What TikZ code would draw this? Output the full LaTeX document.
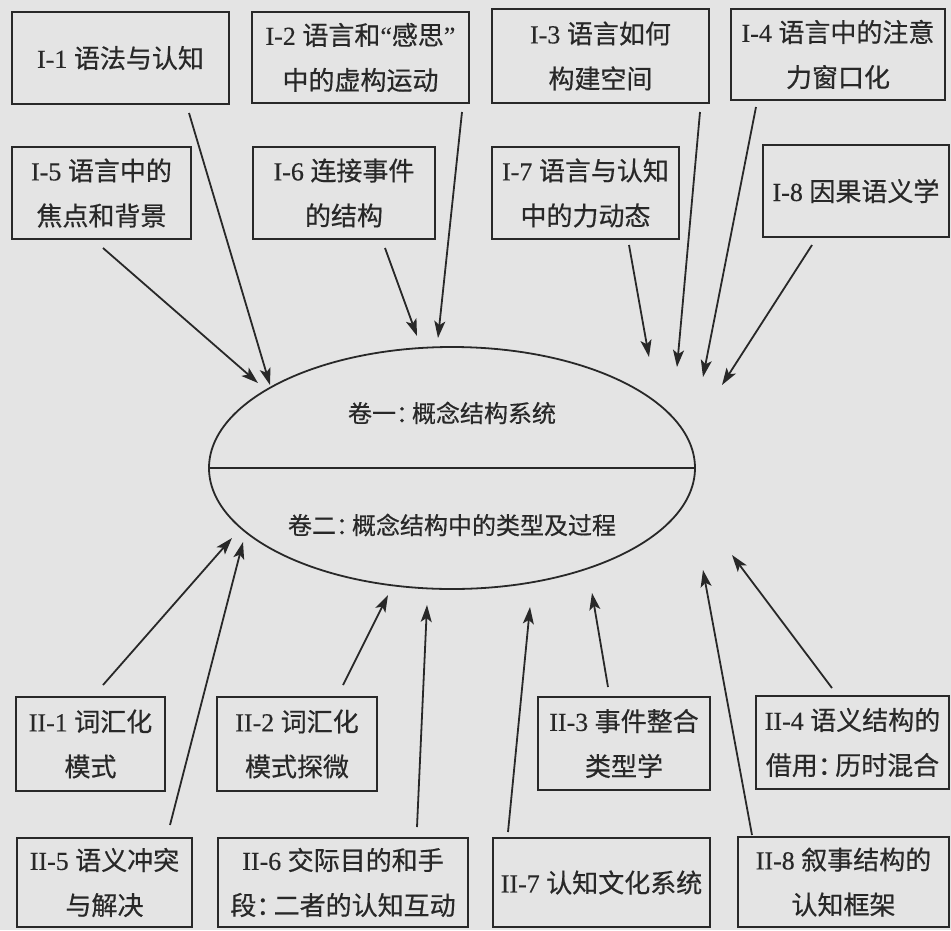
\documentclass[tikz,border=0pt]{standalone}
\usepackage{fontspec}
\setmainfont[FakeBold=0.3]{Liberation Serif}
\newfontfamily\cjk[FakeBold=0.5]{Noto Sans CJK SC}
\usetikzlibrary{arrows.meta,shapes.geometric}
\definecolor{ink}{HTML}{282828}
\definecolor{paper}{HTML}{E4E4E4}
\tikzset{
  box/.style={draw=ink, line width=2.6pt, text=ink, align=center, inner sep=0pt,
    font=\fontsize{26}{45}\selectfont},
  arr/.style={draw=ink, line width=1.8pt, -{Stealth[length=17pt,width=11pt,inset=4pt]}},
  lbl/.style={text=ink, font=\fontsize{24}{30}\selectfont\cjk, inner sep=0pt}
}
\newcommand{\bx}[6]{% name, x1, y1, x2, y2, text
  \node[box, minimum width={(#4-#2)*1pt}, minimum height={(#5-#3)*1pt}]
    (#1) at ({(#2+#4)/2}, {(#3+#5)/2}) {#6};}
\newcommand{\cq}[1]{{\cjk #1}}
\newcommand{\hc}{{\cjk\addfontfeature{RawFeature=+halt}：}}
\begin{document}
\begin{tikzpicture}[x=1pt, y=-1pt]
\fill[paper] (0,0) rectangle (951,930);
\useasboundingbox (0,0) rectangle (951,930);

% top boxes
\bx{I1}{12}{12}{229}{104}{I-1 \cq{语法与认知}}
\bx{I2}{252}{12}{469}{103}{I-2 \cq{语言和}“\cq{感思}”\\\cq{中的虚构运动}}
\bx{I3}{492}{9}{709}{103}{I-3 \cq{语言如何}\\\cq{构建空间}}
\bx{I4}{731}{9}{945}{100}{I-4 \cq{语言中的注意}\\\cq{力窗口化}}
\bx{I5}{12}{147}{191}{239}{I-5 \cq{语言中的}\\\cq{焦点和背景}}
\bx{I6}{253}{147}{435}{239}{I-6 \cq{连接事件}\\\cq{的结构}}
\bx{I7}{492}{147}{679}{239}{I-7 \cq{语言与认知}\\\cq{中的力动态}}
\bx{I8}{763}{145}{949}{237}{I-8 \cq{因果语义学}}

% bottom boxes
\bx{II1}{16}{697}{165}{791}{II-1 \cq{词汇化}\\\cq{模式}}
\bx{II2}{217}{697}{377}{791}{II-2 \cq{词汇化}\\\cq{模式探微}}
\bx{II3}{538}{697}{710}{790}{II-3 \cq{事件整合}\\\cq{类型学}}
\bx{II4}{756}{696}{949}{789}{II-4 \cq{语义结构的}\\\cq{借用}\hc\,\cq{历时混合}}
\bx{II5}{17}{838}{192}{927}{II-5 \cq{语义冲突}\\\cq{与解决}}
\bx{II6}{218}{838}{468}{927}{II-6 \cq{交际目的和手}\\\cq{段}\hc\,\cq{二者的认知互动}}
\bx{II7}{493}{838}{710}{927}{II-7 \cq{认知文化系统}}
\bx{II8}{738}{837}{949}{927}{II-8 \cq{叙事结构的}\\\cq{认知框架}}

% central ellipse
\node[draw=ink, line width=1.8pt, ellipse, minimum width=486pt, minimum height=242pt, inner sep=0pt] (E) at (452,468) {};
\draw[ink, line width=1.8pt] (E.west) -- (E.east);
\node[lbl] (V1) at (452,413) {卷一\hc\,概念结构系统};
\node[lbl] (V2) at (452,525) {卷二\hc\,概念结构中的类型及过程};

% arrow endpoints
\coordinate (s1) at (189,113);  \coordinate (t1) at (270,385);
\coordinate (s2) at (462,112);  \coordinate (t2) at (438,338);
\coordinate (s3) at (700,112);  \coordinate (t3) at (677,367);
\coordinate (s4) at (756,107);  \coordinate (t4) at (703,377);
\coordinate (s5) at (103,248);  \coordinate (t5) at (258,383);
\coordinate (s6) at (385,248);  \coordinate (t6) at (417,336);
\coordinate (s7) at (629,245);  \coordinate (t7) at (649,357);
\coordinate (s8) at (812,245);  \coordinate (t8) at (722,385);
\coordinate (u1) at (103,685);  \coordinate (v1) at (232,538);
\coordinate (u2) at (343,685);  \coordinate (v2) at (388,595);
\coordinate (u3) at (608,687);  \coordinate (v3) at (592,593);
\coordinate (u4) at (832,688);  \coordinate (v4) at (732,555);
\coordinate (u5) at (170,825);  \coordinate (v5) at (243,542);
\coordinate (u6) at (417,827);  \coordinate (v6) at (427,605);
\coordinate (u7) at (508,832);  \coordinate (v7) at (530,607);
\coordinate (u8) at (752,835);  \coordinate (v8) at (703,570);

\foreach \i in {1,...,8} {
  \draw[arr] (s\i) -- (t\i);
  \draw[arr] (u\i) -- (v\i);
}
\end{tikzpicture}
\end{document}
